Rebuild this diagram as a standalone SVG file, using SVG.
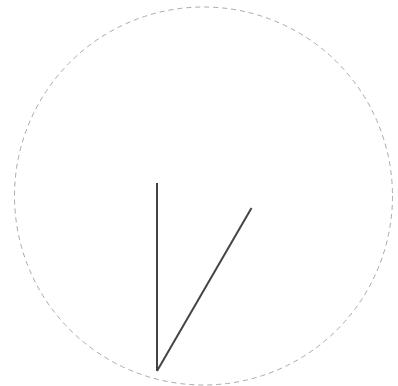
<svg xmlns="http://www.w3.org/2000/svg" width="398" height="386" viewBox="0 0 398 386">
<style>
.ring{fill:none;stroke:#aaaaaa;stroke-width:1;stroke-dasharray:5 4}
.hand{fill:none;stroke:#444444;stroke-width:2;stroke-linecap:butt}
</style>
<rect width="398" height="386" fill="#ffffff"/>
<g id="circle"><circle class="ring" cx="203.5" cy="196" r="189"/></g>
<g id="connectors">
<line class="hand" x1="157" y1="371" x2="157" y2="183"/>
<line class="hand" x1="157" y1="371" x2="251.5" y2="208"/>
</g>
</svg>
